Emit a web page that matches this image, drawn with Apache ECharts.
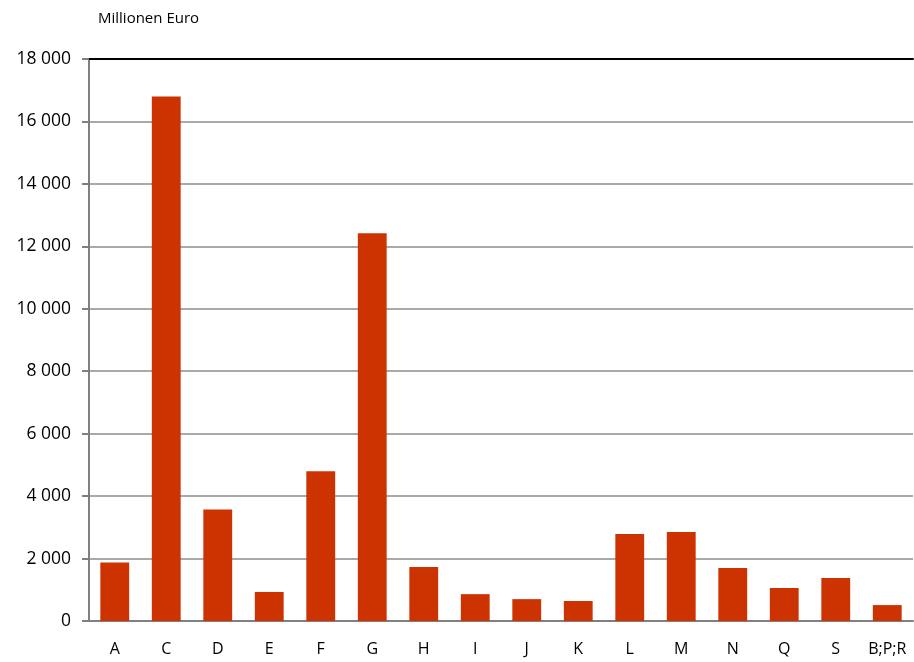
<!DOCTYPE html>
<html><head><meta charset="utf-8">
<script src="https://cdn.jsdelivr.net/npm/echarts@6/dist/echarts.min.js"></script>
<style>html,body{margin:0;padding:0;background:#fff}#c{width:914px;height:662px}</style>
</head><body><div id="c"></div>
<script>
const categories = ['A','C','D','E','F','G','H','I','J','K','L','M','N','Q','S','B;P;R'];
const values = [1870, 16800, 3570, 930, 4800, 12420, 1730, 860, 700, 640, 2790, 2850, 1700, 1060, 1380, 510];
const unitLabel = 'Millionen Euro';

const chart = echarts.init(document.getElementById('c'));
chart.setOption({
  animation: false,
  textStyle: {fontFamily: 'Open Sans'},
  grid: {left: 89, right: 1, top: 59, bottom: 41},
  title: {text: unitLabel, left: 93, top: 6, textStyle: {fontSize: 15, fontWeight: 'normal', color: '#000', fontFamily: 'Open Sans'}},
  xAxis: [{
    type: 'category', data: categories,
    axisLine: {lineStyle: {color: '#808080', width: 2}},
    axisTick: {show: false},
    axisLabel: {color: '#000', fontSize: 16, margin: 20}
  }, {
    type: 'category', data: categories, position: 'top',
    axisLine: {lineStyle: {color: '#000', width: 2}},
    axisTick: {show: false}, axisLabel: {show: false}
  }],
  yAxis: {
    type: 'value', min: 0, max: 18000, interval: 2000,
    axisLine: {show: true, lineStyle: {color: '#808080', width: 2}},
    axisTick: {show: true, length: 7, lineStyle: {color: '#808080', width: 2}},
    splitLine: {lineStyle: {color: '#8c8c8c', width: 1.5}},
    axisLabel: {color: '#000', fontSize: 17.5, margin: 18,
      formatter: v => String(v).replace(/\B(?=(\d{3})+(?!\d))/g, ' ')}
  },
  series: [{
    type: 'bar', data: values, barCategoryGap: '44%',
    itemStyle: {color: '#CC3300'}
  }]
});
</script></body></html>
